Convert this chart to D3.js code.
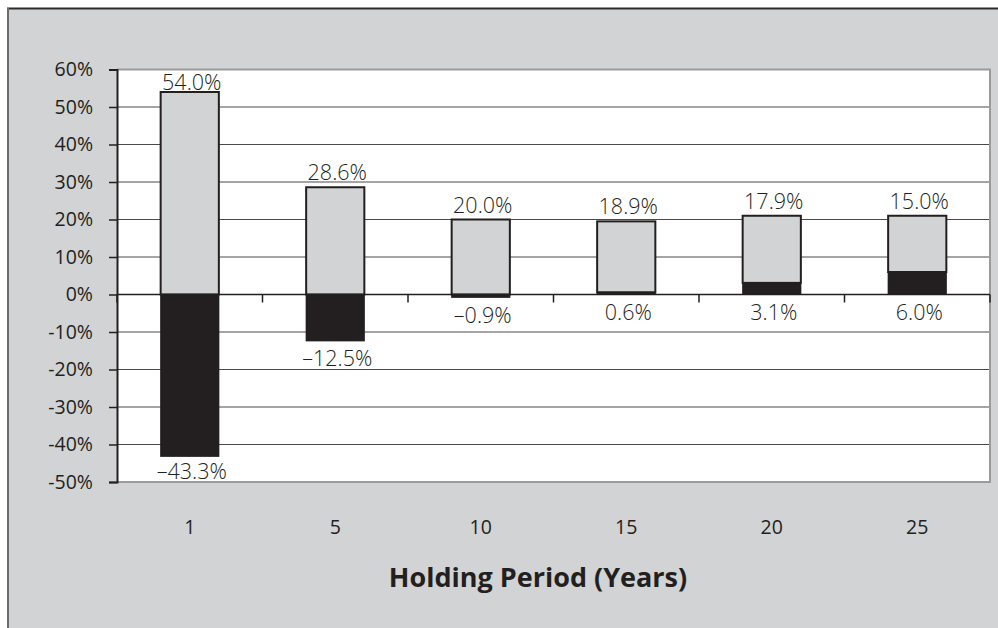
<!DOCTYPE html>
<html>
<head>
<meta charset="utf-8">
<script src="https://cdn.jsdelivr.net/npm/d3@7/dist/d3.min.js"></script>
<style>
  html, body { margin: 0; padding: 0; background: #ffffff; }
  svg { display: block; }
  text { font-family: "Open Sans", "DejaVu Sans", sans-serif; fill: #231f20; }
</style>
</head>
<body>
<svg id="chart" width="998" height="628"></svg>
<script>
// Holding periods (years) and the worst / best annualized returns for each
const periods = ["1", "5", "10", "15", "20", "25"];
const lowReturns = [-43.3, -12.5, -0.9, 0.6, 3.1, 6.0];
const highReturns = [54.0, 28.6, 20.0, 18.9, 17.9, 15.0];
const yTicks = [60, 50, 40, 30, 20, 10, 0, -10, -20, -30, -40, -50];
const xTitle = "Holding Period (Years)";

const PANEL = "#d1d3d4";
const INK = "#231f20";

const svg = d3.select("#chart");
const W = 998, H = 628;

// Outer gray panel with its top and left frame lines
svg.append("rect").attr("x", 8).attr("y", 8).attr("width", W).attr("height", H)
  .attr("fill", PANEL);
svg.append("line").attr("x1", 7).attr("x2", W).attr("y1", 8.5).attr("y2", 8.5)
  .attr("stroke", "#2b2b2b").attr("stroke-width", 2);
svg.append("line").attr("x1", 8).attr("x2", 8).attr("y1", 8).attr("y2", H)
  .attr("stroke", "#6b6b6b").attr("stroke-width", 2);

const plot = { left: 117, right: 990, top: 69.5, bottom: 482 };

const x = d3.scaleBand().domain(periods)
  .range([plot.left, plot.right]).paddingInner(0.6).paddingOuter(0.3);
const y = d3.scaleLinear().domain([-50, 60]).range([plot.bottom, plot.top]);
const step = x.step();

// White plot area
svg.append("rect")
  .attr("x", plot.left).attr("y", plot.top)
  .attr("width", plot.right - plot.left).attr("height", plot.bottom - plot.top)
  .attr("fill", "#ffffff");

// Horizontal gridlines
svg.append("g").selectAll("line")
  .data(yTicks.filter(t => t !== 60 && t !== -50 && t !== 0))
  .join("line")
  .attr("x1", plot.left).attr("x2", plot.right)
  .attr("y1", d => y(d)).attr("y2", d => y(d))
  .attr("stroke", "#4a4a4a").attr("stroke-width", 1);

// Plot frame: top, right, bottom in light gray
const frame = svg.append("g").attr("stroke", "#9b9b9b").attr("stroke-width", 2).attr("fill", "none");
frame.append("path")
  .attr("d", `M${plot.left},${plot.top}H${plot.right}V${plot.bottom}H${plot.left}`);

// Bars: dark segment for the worst return, light segment for the best return stacked above
const bars = svg.append("g");
periods.forEach((p, i) => {
  const lo = lowReturns[i], hi = highReturns[i];
  const base = Math.max(0, lo);
  const bx = x(p), bw = x.bandwidth();
  bars.append("rect")
    .attr("x", bx).attr("width", bw)
    .attr("y", y(base + hi)).attr("height", y(base) - y(base + hi))
    .attr("fill", PANEL).attr("stroke", INK).attr("stroke-width", 2);
  bars.append("rect")
    .attr("x", bx - 0.5).attr("width", bw + 1)
    .attr("y", y(Math.max(0, lo))).attr("height", Math.abs(y(lo) - y(0)))
    .attr("fill", INK);
});

// X axis at zero with boundary ticks
const xAxis = svg.append("g").attr("stroke", INK).attr("stroke-width", 1.5);
xAxis.append("line").attr("x1", plot.left).attr("x2", plot.right)
  .attr("y1", y(0)).attr("y2", y(0));
xAxis.selectAll("line.tk")
  .data(d3.range(periods.length + 1))
  .join("line").attr("class", "tk")
  .attr("x1", d => plot.left + d * step).attr("x2", d => plot.left + d * step)
  .attr("y1", y(0)).attr("y2", y(0) + 8);

// Y axis with outward ticks and labels
const yAxis = d3.axisLeft(y).tickValues(yTicks).tickSize(8).tickPadding(16)
  .tickFormat(d => d + "%");
const gy = svg.append("g").attr("transform", `translate(${plot.left},0)`).call(yAxis);
gy.select(".domain").attr("stroke", INK).attr("stroke-width", 2);
gy.selectAll(".tick line").attr("stroke", INK).attr("stroke-width", 1.5);
gy.selectAll(".tick text")
  .attr("font-family", "'Open Sans', 'DejaVu Sans', sans-serif")
  .attr("font-size", 19.5).attr("fill", INK);

// Value labels
const fmt = v => (v < 0 ? "\u2013" : "") + Math.abs(v).toFixed(1) + "%";
const labels = svg.append("g").attr("text-anchor", "middle")
  .attr("font-size", 21.5).attr("font-weight", 300);
periods.forEach((p, i) => {
  const lo = lowReturns[i], hi = highReturns[i];
  const top = Math.max(0, lo) + hi;
  const cx = x(p) + x.bandwidth() / 2 + 2;
  labels.append("text")
    .attr("x", cx).attr("y", Math.max(y(top) - 7, plot.top + 20))
    .text(fmt(hi));
  labels.append("text")
    .attr("x", cx).attr("y", Math.min(y(Math.min(0, lo)) + 25, plot.bottom - 3))
    .text(fmt(lo));
});

// Category labels below the plot
svg.append("g").attr("text-anchor", "middle").attr("font-size", 19.5)
  .selectAll("text").data(periods).join("text")
  .attr("x", d => x(d) + x.bandwidth() / 2)
  .attr("y", 534)
  .text(d => d);

// Axis title
svg.append("text")
  .attr("x", (390 + 686) / 2).attr("y", 587)
  .attr("text-anchor", "middle")
  .attr("font-size", 27).attr("font-weight", 700)
  .text(xTitle);
</script>
</body>
</html>
